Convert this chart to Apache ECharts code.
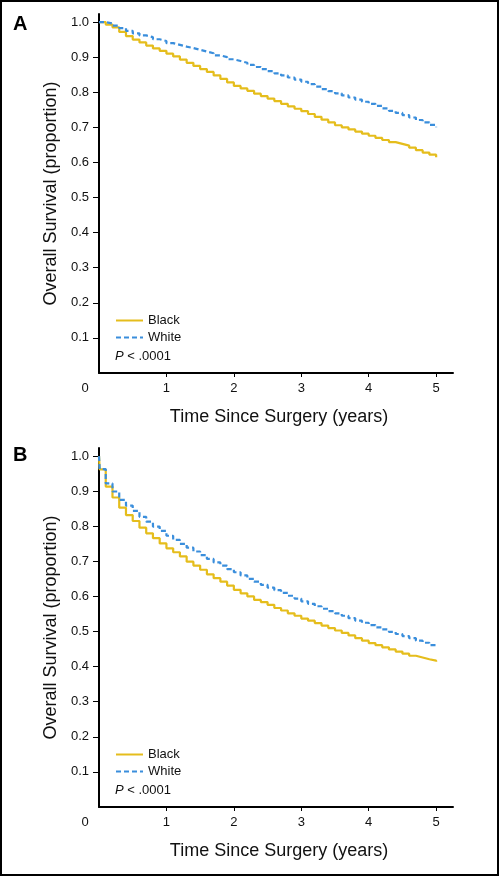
<!DOCTYPE html>
<html>
<head>
<meta charset="utf-8">
<script src="https://cdn.jsdelivr.net/npm/echarts@6/dist/echarts.min.js"></script>
<style>
html,body{margin:0;padding:0;background:#fff;}
#main{width:500px;height:876px;}
</style>
</head>
<body>
<div id="main"></div>
<script>
// ---------- DATA ----------
const seriesNames = ['Black', 'White'];
const xTickLabels = [0, 1, 2, 3, 4, 5];
const yTickLabels = [0.1, 0.2, 0.3, 0.4, 0.5, 0.6, 0.7, 0.8, 0.9, 1.0];

// Panel A: time (years) and survival proportions
const timeA = [0,0.1,0.2,0.3,0.4,0.5,0.6,0.7,0.8,0.9,1.0,1.1,1.2,1.3,1.4,1.5,1.6,1.7,1.8,1.9,2.0,2.1,2.2,2.3,2.4,2.5,2.6,2.7,2.8,2.9,3.0,3.1,3.2,3.3,3.4,3.5,3.6,3.7,3.8,3.9,4.0,4.1,4.2,4.3,4.4,4.5,4.6,4.7,4.8,4.9,5.0];
const blackA = [1.000,0.993,0.985,0.972,0.960,0.950,0.942,0.933,0.925,0.918,0.910,0.902,0.893,0.884,0.875,0.866,0.858,0.848,0.838,0.828,0.818,0.811,0.804,0.796,0.789,0.782,0.775,0.767,0.760,0.753,0.746,0.738,0.730,0.722,0.714,0.706,0.700,0.694,0.688,0.682,0.676,0.670,0.664,0.658,0.653,0.648,0.642,0.635,0.628,0.622,0.615];
const whiteA = [1.000,0.996,0.990,0.983,0.975,0.968,0.962,0.957,0.951,0.946,0.940,0.935,0.930,0.926,0.921,0.916,0.911,0.905,0.900,0.894,0.889,0.884,0.878,0.872,0.866,0.860,0.854,0.848,0.842,0.836,0.830,0.823,0.816,0.809,0.803,0.797,0.791,0.785,0.779,0.773,0.767,0.761,0.754,0.747,0.741,0.735,0.728,0.721,0.714,0.707,0.700];

// Panel B
const timeB = [0,0.01,0.1,0.2,0.3,0.4,0.5,0.6,0.7,0.8,0.9,1.0,1.1,1.2,1.3,1.4,1.5,1.6,1.7,1.8,1.9,2.0,2.1,2.2,2.3,2.4,2.5,2.6,2.7,2.8,2.9,3.0,3.1,3.2,3.3,3.4,3.5,3.6,3.7,3.8,3.9,4.0,4.1,4.2,4.3,4.4,4.5,4.6,4.7,4.8,4.9,5.0];
const blackB = [1.000,0.962,0.913,0.882,0.853,0.832,0.815,0.796,0.780,0.766,0.751,0.737,0.726,0.714,0.699,0.688,0.676,0.663,0.652,0.642,0.631,0.619,0.609,0.600,0.590,0.584,0.576,0.567,0.560,0.552,0.545,0.537,0.531,0.524,0.517,0.510,0.503,0.496,0.489,0.481,0.474,0.467,0.461,0.455,0.449,0.443,0.437,0.431,0.426,0.421,0.417,0.414];
const whiteB = [1.000,0.963,0.922,0.899,0.875,0.859,0.844,0.827,0.813,0.799,0.787,0.773,0.761,0.750,0.739,0.728,0.718,0.707,0.697,0.688,0.678,0.669,0.660,0.650,0.642,0.633,0.625,0.618,0.610,0.602,0.594,0.586,0.579,0.572,0.565,0.558,0.552,0.545,0.538,0.531,0.525,0.518,0.512,0.506,0.499,0.493,0.487,0.481,0.474,0.468,0.461,0.455];

// ---------- STYLE ----------
const GOLD = '#E5BD1C';
const BLUE = '#3A8EDC';
const FONT = '"Liberation Sans", Arial, sans-serif';

function pairs(t, v) { return t.map((x, i) => [x, v[i]]); }

const chart = echarts.init(document.getElementById('main'), null, {renderer: 'canvas'});

function xAxisFor(gridIndex) {
  return {
    type: 'value', gridIndex: gridIndex, min: 0, max: 5.25,
    axisLine: {show: true, onZero: false, lineStyle: {color: '#000', width: 2}},
    axisTick: {show: true, customValues: [1,2,3,4,5], length: 4, lineStyle: {color: '#000', width: 1}},
    axisLabel: {
      customValues: xTickLabels, color: '#111', fontFamily: FONT, fontSize: 13, margin: 9,
      formatter: v => v === 0 ? '{z|0}' : String(v),
      rich: {z: {padding: [0, 28, 0, 0], fontFamily: FONT, fontSize: 13, color: '#111'}}
    },
    splitLine: {show: false},
    name: 'Time Since Surgery (years)', nameLocation: 'middle', nameGap: 35,
    nameTextStyle: {fontFamily: FONT, fontSize: 18, color: '#111', padding: [0, 0, 0, 6]}
  };
}
function yAxisFor(gridIndex) {
  return {
    type: 'value', gridIndex: gridIndex, min: 0, max: 1.023,
    axisLine: {show: true, onZero: false, lineStyle: {color: '#000', width: 2}},
    axisTick: {show: true, customValues: yTickLabels, length: 6, lineStyle: {color: '#000', width: 1}},
    axisLabel: {customValues: yTickLabels, color: '#111', fontFamily: FONT, fontSize: 13, margin: 10,
      formatter: v => v.toFixed(1)},
    splitLine: {show: false},
    name: 'Overall Survival (proportion)', nameLocation: 'middle', nameGap: 39, nameRotate: 90,
    nameTextStyle: {fontFamily: FONT, fontSize: 18, color: '#111'}
  };
}
function lineSeries(name, idx, t, v, color, dashed) {
  return {
    name: name, type: 'line', xAxisIndex: idx, yAxisIndex: idx,
    data: pairs(t, v), step: 'end', symbol: 'none', showSymbol: false,
    lineStyle: {color: color, width: 2.2, type: dashed ? [5, 3] : 'solid'},
    itemStyle: {color: color},
    emphasis: {disabled: true}, silent: true
  };
}
function legendFor(top) {
  return {data: seriesNames, orient: 'vertical', left: 110, top: top, itemWidth: 27, itemHeight: 12, itemGap: 4,
    itemStyle: {opacity: 0}, selectedMode: false,
    textStyle: {fontFamily: FONT, fontSize: 13, color: '#111'}};
}
function pTitle(top) {
  return {text: '{i|P} < .0001', left: 110, top: top, textStyle: {fontFamily: FONT, fontSize: 13, fontWeight: 'normal', color: '#111',
    rich: {i: {fontStyle: 'italic', fontWeight: 'normal', fontFamily: FONT, fontSize: 13, color: '#111'}}}};
}

const option = {
  animation: false,
  backgroundColor: '#fff',
  grid: [
    {left: 99, top: 14, width: 354, height: 359},
    {left: 99, top: 448, width: 354, height: 359}
  ],
  xAxis: [xAxisFor(0), xAxisFor(1)],
  yAxis: [yAxisFor(0), yAxisFor(1)],
  legend: [legendFor(309), legendFor(743)],
  title: [
    {text: 'A', left: 8, top: 9, textStyle: {fontFamily: FONT, fontWeight: 'bold', fontSize: 20, color: '#000'}},
    {text: 'B', left: 8, top: 440, textStyle: {fontFamily: FONT, fontWeight: 'bold', fontSize: 20, color: '#000'}},
    pTitle(345),
    pTitle(779)
  ],
  graphic: [
    {type: 'rect', shape: {x: 1, y: 1, width: 497, height: 874}, style: {fill: 'none', stroke: '#000', lineWidth: 2}, silent: true}
  ],
  series: [
    lineSeries(seriesNames[0], 0, timeA, blackA, GOLD, false),
    lineSeries(seriesNames[1], 0, timeA, whiteA, BLUE, true),
    lineSeries(seriesNames[0], 1, timeB, blackB, GOLD, false),
    lineSeries(seriesNames[1], 1, timeB, whiteB, BLUE, true)
  ]
};
chart.setOption(option);
</script>
</body>
</html>
